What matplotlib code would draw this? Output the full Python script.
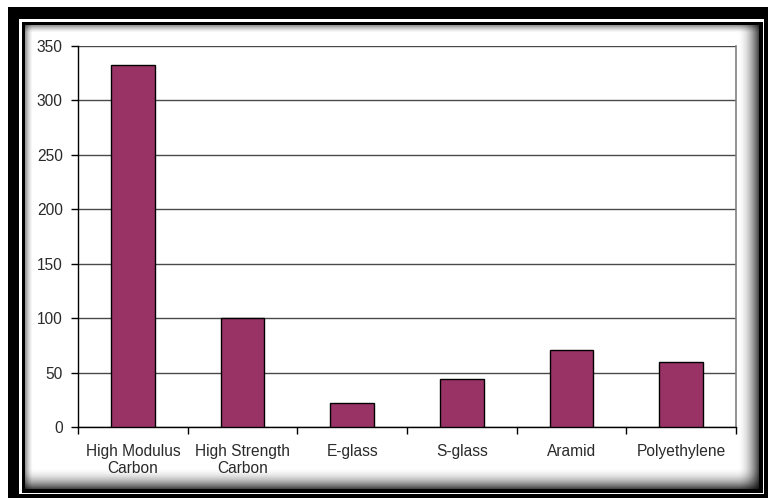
import numpy as np
import matplotlib
matplotlib.use("Agg")
import matplotlib.pyplot as plt
from matplotlib.patches import Rectangle

plt.rcParams['font.family'] = ['Liberation Sans', 'DejaVu Sans']

categories = ["High Modulus\nCarbon", "High Strength\nCarbon", "E-glass",
              "S-glass", "Aramid", "Polyethylene"]
values = [333, 100, 22, 44, 71, 60]
y_ticks = [0, 50, 100, 150, 200, 250, 300, 350]

W, H = 771, 501
fig = plt.figure(figsize=(W / 100, H / 100), dpi=100, facecolor='white')

# Decorative frame drawn in pixel coordinates
frame = fig.add_axes([0, 0, 1, 1], zorder=0)
frame.set_xlim(0, W)
frame.set_ylim(H, 0)
frame.axis('off')
frame.add_patch(Rectangle((8, 7), 760, 491, facecolor='black', edgecolor='none', zorder=1))
frame.add_patch(Rectangle((19, 19), 745, 475, facecolor='white', edgecolor='none', zorder=1))
frame.add_patch(Rectangle((22, 22), 741, 471, facecolor='black', edgecolor='none', zorder=1))

# Inner panel with a soft inset shadow along its edges
x0, x1, y0, y1 = 25, 759, 25, 489
xs = np.arange(x0, x1) + 0.5
ys = np.arange(y0, y1) + 0.5
X, Y = np.meshgrid(xs, ys)
left = 0.45 * np.clip(1 - (X - x0) / 8.0, 0, 1) ** 1.5
top = 0.45 * np.clip(1 - (Y - y0) / 8.0, 0, 1) ** 1.5
right = 0.75 * np.clip(1 - (x1 - X) / 22.0, 0, 1) ** 2
bottom = 0.75 * np.clip(1 - (y1 - Y) / 22.0, 0, 1) ** 2
shade = (1 - left) * (1 - top) * (1 - right) * (1 - bottom)
frame.imshow(shade, cmap='gray', vmin=0, vmax=1, extent=(x0, x1, y1, y0),
             interpolation='bilinear', aspect='auto', zorder=2)
frame.set_xlim(0, W)
frame.set_ylim(H, 0)

# Bar chart
ax = fig.add_axes([78 / W, 1 - 427 / H, (736 - 78) / W, (427 - 46) / H], zorder=1)
ax.set_facecolor('white')
xpos = np.arange(len(categories))
ax.bar(xpos, values, width=0.4, color='#993366', edgecolor='black',
       linewidth=1, zorder=3)

ax.set_xlim(-0.5, len(categories) - 0.5)
ax.set_ylim(0, 350)
ax.set_yticks(y_ticks)
ax.set_yticklabels([str(v) for v in y_ticks])
ax.yaxis.grid(True, color='#4a4a4a', linewidth=1, zorder=0)
ax.set_axisbelow(True)

ax.set_xticks(np.arange(-0.5, len(categories)), minor=False)
ax.set_xticklabels([])
ax.set_xticks(xpos, minor=True)
ax.set_xticklabels(categories, minor=True)
ax.tick_params(axis='x', which='major', direction='out', length=5, width=1,
               color='black')
ax.tick_params(axis='x', which='minor', length=0, pad=12,
               labelsize=11.2, labelcolor='#2a2a2a')
ax.tick_params(axis='y', direction='out', length=5, width=1, pad=6,
               labelsize=11.2, labelcolor='#2a2a2a', color='black')

for side in ['left', 'bottom']:
    ax.spines[side].set_color('black')
    ax.spines[side].set_linewidth(1)
ax.spines['top'].set_visible(False)
ax.spines['right'].set_color('#808080')
ax.spines['right'].set_linewidth(1.2)

fig.savefig('out.png', dpi=100, facecolor='white')
